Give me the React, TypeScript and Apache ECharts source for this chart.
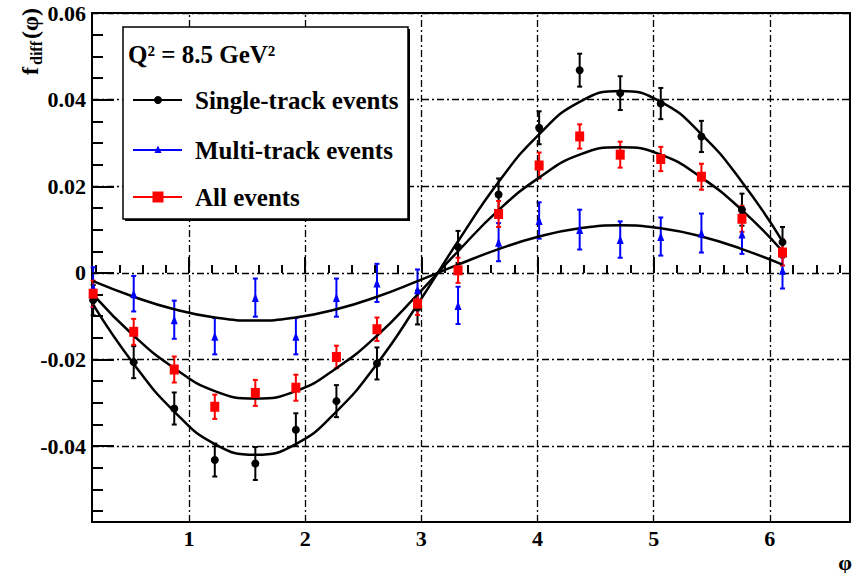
import React, { useEffect, useRef } from "react";
import * as echarts from "echarts";

// azimuthal angle bins
const PHI = [0.175, 0.524, 0.873, 1.222, 1.571, 1.92, 2.269, 2.618, 2.967, 3.316, 3.665, 4.014, 4.363, 4.712, 5.061, 5.411, 5.76, 6.109];

// Single-track events
const SINGLE = [-0.0063, -0.0206, -0.0313, -0.0432, -0.044, -0.0362, -0.0296, -0.0209, -0.008, 0.006, 0.0181, 0.0335, 0.0468, 0.0415, 0.0391, 0.0315, 0.0146, 0.0071];
const SINGLE_ERR = [0.0035, 0.0037, 0.0037, 0.0038, 0.0038, 0.0038, 0.0037, 0.0037, 0.0039, 0.0037, 0.0037, 0.0038, 0.0038, 0.0039, 0.0036, 0.0036, 0.0037, 0.0035];

// Multi-track events
const MULTI = [-0.0033, -0.0048, -0.0108, -0.0146, -0.0057, -0.0146, -0.0057, -0.0023, -0.0039, -0.0075, 0.0071, 0.0121, 0.01, 0.0077, 0.0084, 0.0092, 0.009, 0.0006];
const MULTI_ERR = [0.0046, 0.0041, 0.0044, 0.0042, 0.0044, 0.0042, 0.0044, 0.0044, 0.0047, 0.0043, 0.0044, 0.0042, 0.0046, 0.0042, 0.0044, 0.0045, 0.0046, 0.0042];

// All events
const ALL = [-0.0048, -0.0136, -0.0223, -0.0309, -0.0277, -0.0265, -0.0194, -0.013, -0.0071, 0.0006, 0.0136, 0.0248, 0.0315, 0.0273, 0.0263, 0.0222, 0.0125, 0.0047];
const ALL_ERR = [0.003, 0.003, 0.003, 0.0028, 0.003, 0.003, 0.0026, 0.0027, 0.0026, 0.0029, 0.003, 0.003, 0.0028, 0.003, 0.0028, 0.003, 0.003, 0.003];

// fit curves, read at the bin centres
const FIT_SINGLE = [-0.0073, -0.021, -0.032, -0.0395, -0.042, -0.0395, -0.032, -0.021, -0.0073, 0.0073, 0.021, 0.032, 0.0395, 0.042, 0.0395, 0.032, 0.021, 0.0073];
const FIT_ALL = [-0.005, -0.0145, -0.022, -0.0273, -0.029, -0.0273, -0.022, -0.0145, -0.005, 0.005, 0.0145, 0.022, 0.0273, 0.029, 0.0273, 0.022, 0.0145, 0.005];
const FIT_MULTI = [-0.0019, -0.0055, -0.0084, -0.0103, -0.011, -0.0103, -0.0084, -0.0055, -0.0019, 0.0019, 0.0055, 0.0084, 0.0103, 0.011, 0.0103, 0.0084, 0.0055, 0.0019];

// axes
const X_MIN = 0.165;
const X_MAX = 6.69;
const Y_MIN = -0.0575;
const Y_MAX = 0.06;
const X_TICKS = [1, 2, 3, 4, 5, 6];
const X_MINOR_TICKS = [0.2, 0.4, 0.6, 0.8, 1.2, 1.4, 1.6, 1.8, 2.2, 2.4, 2.6, 2.8, 3.2, 3.4, 3.6, 3.8, 4.2, 4.4, 4.6, 4.8, 5.2, 5.4, 5.6, 5.8, 6.2, 6.4, 6.6];
const Y_TICKS = [-0.04, -0.02, 0, 0.02, 0.04, 0.06];
const Y_MINOR_TICKS = [-0.055, -0.05, -0.045, -0.035, -0.03, -0.025, -0.015, -0.01, -0.005, 0.005, 0.01, 0.015, 0.025, 0.03, 0.035, 0.045, 0.05, 0.055];

const LEGEND_TITLE = "Q² = 8.5 GeV²";
const LEGEND_NAMES = ["Single-track events", "Multi-track events", "All events"];

const FONT = "Liberation Serif";

function errorBars(vals: number[], errs: number[], color: string, z: number) {
  return {
    type: "custom",
    z,
    silent: true,
    clip: false,
    data: PHI.map((x, i) => [x, vals[i] - errs[i], vals[i] + errs[i]]),
    encode: { x: 0, y: [1, 2] },
    renderItem: (_p: any, api: any) => {
      const lo = api.coord([api.value(0), api.value(1)]);
      const hi = api.coord([api.value(0), api.value(2)]);
      const w = 2.5;
      const style = { stroke: color, lineWidth: 2, fill: "none" };
      return {
        type: "group",
        children: [
          { type: "line", shape: { x1: lo[0], y1: lo[1], x2: hi[0], y2: hi[1] }, style },
          { type: "line", shape: { x1: hi[0] - w, y1: hi[1], x2: hi[0] + w, y2: hi[1] }, style },
          { type: "line", shape: { x1: lo[0] - w, y1: lo[1], x2: lo[0] + w, y2: lo[1] }, style },
        ],
      };
    },
  };
}

function points(vals: number[], symbol: string, size: any, color: string, z: number) {
  return {
    type: "scatter",
    z,
    silent: true,
    symbol,
    symbolSize: size,
    itemStyle: { color, opacity: 1 },
    data: PHI.map((x, i) => [x, vals[i]]),
  };
}

function curve(vals: number[], z: number) {
  return {
    type: "line",
    z,
    silent: true,
    smooth: true,
    showSymbol: false,
    symbol: "none",
    lineStyle: { color: "#000", width: 2.5 },
    data: PHI.map((x, i) => [x, vals[i]]),
  };
}

function txt(text: string, x: number, y: number, size: number, align = "left", z = 102) {
  return {
    type: "text", x, y, z,
    style: { text, font: `bold ${size}px "${FONT}"`, fill: "#000", textAlign: align, align, textVerticalAlign: "middle", verticalAlign: "middle" },
  };
}

export default function App() {
  const ref = useRef<HTMLDivElement>(null);
  useEffect(() => {
    const chart = echarts.init(ref.current!, null, { renderer: "svg" });
    const axisText = { color: "#000", fontFamily: FONT, fontWeight: "bold", fontSize: 22 };
    const option: any = {
      animation: false,
      backgroundColor: "#fff",
      grid: { left: 92, top: 13, right: 10, bottom: 51, show: true, borderColor: "#000", borderWidth: 2, backgroundColor: "transparent" },
      xAxis: [
        {
          type: "value", min: X_MIN, max: X_MAX, position: "bottom",
          axisLine: { show: false },
          splitLine: { show: false },
          axisTick: { show: true, inside: true, length: 16, customValues: X_TICKS, lineStyle: { color: "#000", width: 2 } },
          axisLabel: { show: true, customValues: X_TICKS, margin: 5, ...axisText, formatter: (v: number) => String(v) },
        },
        {
          type: "value", min: X_MIN, max: X_MAX, position: "bottom",
          axisLine: { show: false },
          splitLine: { show: false },
          axisTick: { show: true, inside: true, length: 8, customValues: X_MINOR_TICKS, lineStyle: { color: "#000", width: 2 } },
          axisLabel: { show: false },
        },
      ],
      yAxis: [
        {
          type: "value", min: Y_MIN, max: Y_MAX, position: "left",
          axisLine: { show: false },
          splitLine: { show: false },
          axisTick: { show: true, inside: true, length: 22, customValues: Y_TICKS, lineStyle: { color: "#000", width: 2 } },
          axisLabel: { show: true, customValues: Y_TICKS, margin: 6, ...axisText, formatter: (v: number) => (Math.abs(v) < 1e-9 ? "0" : v.toFixed(2)) },
        },
        {
          type: "value", min: Y_MIN, max: Y_MAX, position: "left",
          axisLine: { show: false },
          splitLine: { show: false },
          axisTick: { show: true, inside: true, length: 11, customValues: Y_MINOR_TICKS, lineStyle: { color: "#000", width: 2 } },
          axisLabel: { show: false },
        },
      ],
      series: [
        {
          type: "line",
          data: [],
          z: 1,
          silent: true,
          markLine: {
            silent: true,
            symbol: ["none", "none"],
            label: { show: false },
            emphasis: { disabled: true },
            lineStyle: { color: "#000", width: 1.3, type: [7, 3, 2, 3] },
            data: [
              ...X_TICKS.map((v) => ({ xAxis: v })),
              ...Y_TICKS.map((v) => ({ yAxis: v })),
            ],
          },
        },
        errorBars(SINGLE, SINGLE_ERR, "#000", 3),
        errorBars(MULTI, MULTI_ERR, "#0000ff", 3),
        errorBars(ALL, ALL_ERR, "#ff0000", 3),
        curve(FIT_SINGLE, 4),
        curve(FIT_ALL, 4),
        curve(FIT_MULTI, 4),
        points(SINGLE, "circle", 8, "#000", 5),
        points(MULTI, "triangle", [7, 9], "#0000ff", 5),
        points(ALL, "rect", [9, 10], "#ff0000", 5),
      ],
      graphic: [
        {
          type: "group", x: 30, y: 75, rotation: Math.PI / 2, z: 100,
          children: [
            txt("f", 0, 0, 24, "left", 100),
            txt("diff", 10, 6, 16, "left", 100),
            txt("(φ)", 36, 0, 24, "left", 100),
          ],
        },
        txt("φ", 845, 562, 22, "center", 100),
        { type: "rect", z: 100, shape: { x: 125, y: 29, width: 285, height: 192 }, style: { fill: "#000" } },
        { type: "rect", z: 101, shape: { x: 123, y: 27, width: 285, height: 192 }, style: { fill: "#fff", stroke: "#000", lineWidth: 1.5 } },
        txt(LEGEND_TITLE, 128, 54, 25),
        { type: "line", z: 102, shape: { x1: 133, y1: 100, x2: 182, y2: 100 }, style: { stroke: "#000", lineWidth: 2 } },
        { type: "circle", z: 103, shape: { cx: 158, cy: 100, r: 4 }, style: { fill: "#000" } },
        txt(LEGEND_NAMES[0], 195, 100, 25),
        { type: "line", z: 102, shape: { x1: 133, y1: 150, x2: 182, y2: 150 }, style: { stroke: "#0000ff", lineWidth: 2 } },
        { type: "polygon", z: 103, shape: { points: [[158, 145.5], [154.5, 153], [161.5, 153]] }, style: { fill: "#0000ff" } },
        txt(LEGEND_NAMES[1], 195, 150, 25),
        { type: "line", z: 102, shape: { x1: 133, y1: 197, x2: 182, y2: 197 }, style: { stroke: "#ff0000", lineWidth: 2 } },
        { type: "rect", z: 103, shape: { x: 152.5, y: 191.5, width: 11, height: 11 }, style: { fill: "#ff0000" } },
        txt(LEGEND_NAMES[2], 195, 197, 25),
      ],
    };
    chart.setOption(option);
    return () => chart.dispose();
  }, []);
  return <div ref={ref} style={{ position: "fixed", left: 0, top: 0, width: 860, height: 573, background: "#fff" }} />;
}
